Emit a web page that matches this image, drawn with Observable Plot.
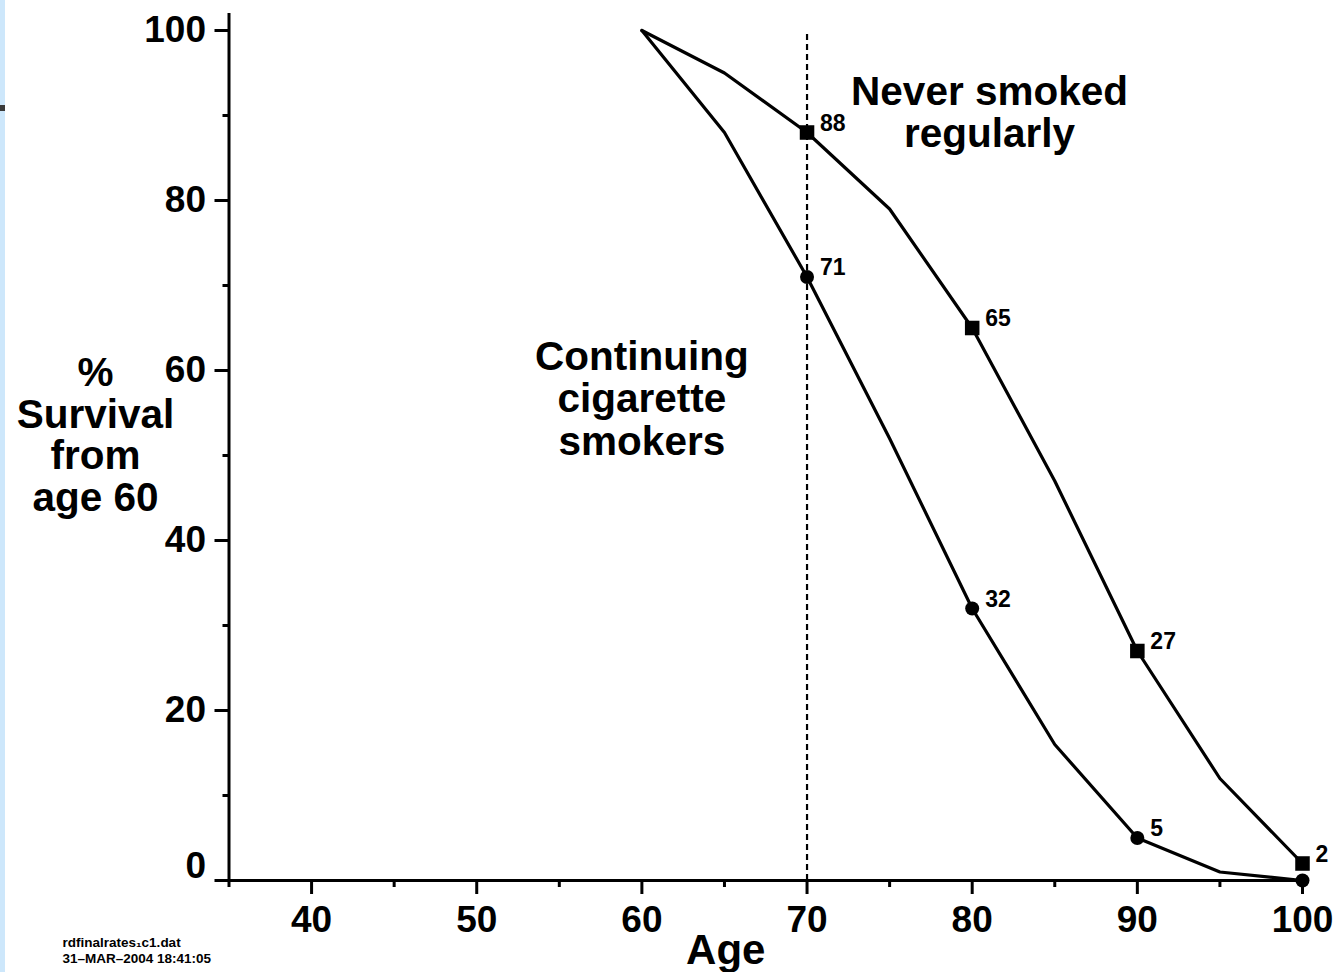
<!DOCTYPE html>
<html>
<head>
<meta charset="utf-8">
<script src="https://cdn.jsdelivr.net/npm/d3@7"></script>
<script src="https://cdn.jsdelivr.net/npm/@observablehq/plot@0.6"></script>
<style>
  html, body { margin: 0; padding: 0; background: #fff; }
  #wrap { position: relative; width: 1336px; height: 972px; overflow: hidden; }
  #strip { position: absolute; left: 0; top: 0; width: 5px; height: 972px; background: #cde7fb; }
  #notch { position: absolute; left: 0; top: 105px; width: 5px; height: 6px; background: #3a3a3a; }
</style>
</head>
<body>
<div id="wrap"><div id="chart"></div><div id="strip"></div><div id="notch"></div></div>
<script>
// ---- data ----
const ages = [60, 65, 70, 75, 80, 85, 90, 95, 100];
const neverSmoked = [100, 95, 88, 79, 65, 47, 27, 12, 2];
const smokers = [100, 88, 71, 52, 32, 16, 5, 1, 0];
const labelledAges = [70, 80, 90, 100];
const smokerLabelledAges = [70, 80, 90];
const markerAges = [70, 80, 90, 100];
const referenceAge = [70];
const xMajorTicks = [40, 50, 60, 70, 80, 90, 100];
const xMinorTicks = [35, 45, 55, 65, 75, 85, 95];
const yLabelledTicks = [20, 40, 60, 80, 100];
const yZeroTick = [0];
const yMinorTicks = [10, 30, 50, 70, 90];
const seriesNames = ["Never smoked regularly", "Continuing cigarette smokers"];
const annotationNever = ["Never smoked\nregularly"];
const annotationSmokers = ["Continuing\ncigarette\nsmokers"];
const yTitle = ["%\nSurvival\nfrom\nage 60"];
const xTitle = ["Age"];
const footnote = ["rdfinalrates\u2081\u1d041.dat", "31\u2013MAR\u20132004 18:41:05"];

// ---- tables built from the arrays ----
const neverRows = ages.map((a, i) => ({age: a, value: neverSmoked[i], series: seriesNames[0]}));
const smokerRows = ages.map((a, i) => ({age: a, value: smokers[i], series: seriesNames[1]}));
const neverMarkers = neverRows.filter(d => markerAges.includes(d.age));
const smokerMarkers = smokerRows.filter(d => markerAges.includes(d.age));
const neverLabels = neverRows.filter(d => labelledAges.includes(d.age));
const smokerLabels = smokerRows.filter(d => smokerLabelledAges.includes(d.age));

const FONT = "'Liberation Sans', Arial, Helvetica, sans-serif";
const big = 40.5;
const tickFont = 37;

const chart = Plot.plot({
  width: 1336,
  height: 972,
  marginLeft: 228.5,
  marginRight: 34,
  marginTop: 30,
  marginBottom: 92,
  style: {fontFamily: FONT, background: "transparent", overflow: "visible", color: "#000"},
  x: {domain: [35, 100], axis: null},
  y: {domain: [0, 100], axis: null},
  marks: [
    // dashed reference at age 70
    Plot.ruleX(referenceAge, {y1: 0, y2: 100, stroke: "#000", strokeWidth: 2.2, strokeDasharray: "6,4"}),
    // survival curves
    Plot.line(neverRows, {x: "age", y: "value", stroke: "#000", strokeWidth: 3.2}),
    Plot.line(smokerRows, {x: "age", y: "value", stroke: "#000", strokeWidth: 3.2}),
    Plot.dot(neverMarkers, {x: "age", y: "value", symbol: "square", r: 8.2, fill: "#000"}),
    Plot.dot(smokerMarkers, {x: "age", y: "value", symbol: "circle", r: 7, fill: "#000"}),
    Plot.text(neverLabels, {x: "age", y: "value", text: d => String(d.value), dx: 13, dy: -9,
      textAnchor: "start", fontSize: 23, fontWeight: "bold", fill: "#000"}),
    Plot.text(smokerLabels, {x: "age", y: "value", text: d => String(d.value), dx: 13, dy: -9,
      textAnchor: "start", fontSize: 23, fontWeight: "bold", fill: "#000"}),
    // axis lines
    Plot.ruleY(yZeroTick, {x1: 35, x2: 100, stroke: "#000", strokeWidth: 3}),
    Plot.ruleX([35], {y1: 0, y2: 102, stroke: "#000", strokeWidth: 3}),
    // ticks
    Plot.axisX(xMajorTicks, {label: null, tickSize: 14, tickPadding: 11, strokeWidth: 3, fontSize: tickFont, fontWeight: "bold", fill: "#000", stroke: "#000"}),
    Plot.axisX(xMinorTicks, {label: null, tickSize: 7, strokeWidth: 3, tickFormat: () => "", stroke: "#000"}),
    Plot.axisY(yLabelledTicks, {label: null, tickSize: 14, tickPadding: 9, strokeWidth: 3, fontSize: tickFont, fontWeight: "bold", fill: "#000", stroke: "#000"}),
    Plot.axisY(yMinorTicks, {label: null, tickSize: 6, strokeWidth: 3, tickFormat: () => "", stroke: "#000"}),
    Plot.axisY(yZeroTick, {label: null, tickSize: 14, strokeWidth: 3, tickFormat: () => "", stroke: "#000"}),
    Plot.axisY(yZeroTick, {label: null, tickSize: 14, tickPadding: 9, dy: -14, strokeOpacity: 0, fontSize: tickFont, fontWeight: "bold", fill: "#000"}),
    // annotations
    Plot.text(annotationNever, {x: 81.05, y: 90.35, text: d => d, fontSize: big, fontWeight: "bold", lineHeight: 42 / big, lineAnchor: "middle", fill: "#000"}),
    Plot.text(annotationSmokers, {x: 60, y: 56.7, text: d => d, fontSize: big, fontWeight: "bold", lineHeight: 42.5 / big, lineAnchor: "middle", fill: "#000"}),
    // titles
    Plot.text(yTitle, {frameAnchor: "left", dx: -133.5, dy: -20.5, text: d => d, fontSize: big, fontWeight: "bold", lineHeight: 41.7 / big, textAnchor: "middle", lineAnchor: "middle", fill: "#000"}),
    Plot.text(xTitle, {frameAnchor: "bottom", dx: -40, dy: 70, text: d => d, fontSize: 42, fontWeight: "bold", textAnchor: "middle", lineAnchor: "middle", fill: "#000"}),
    Plot.text([footnote.join("\n")], {frameAnchor: "bottom-left", dx: -166.5, dy: 69, text: d => d, fontSize: 13.5, fontWeight: "bold", lineHeight: 16 / 13.5, textAnchor: "start", lineAnchor: "middle", fill: "#000"})
  ]
});
document.getElementById("chart").appendChild(chart);
</script>
</body>
</html>
